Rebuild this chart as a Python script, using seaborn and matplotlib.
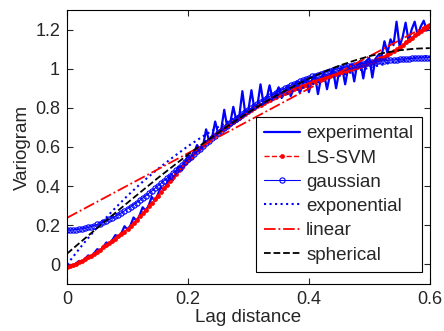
import matplotlib
matplotlib.use('Agg')
import matplotlib.pyplot as plt
import seaborn as sns
from matplotlib.ticker import FormatStrFormatter

# lag grid of the experimental variogram and of the fitted curves
lag = [
    0.000, 0.005, 0.010, 0.015, 0.020, 0.025, 0.030, 0.035, 0.040, 0.045,
    0.050, 0.055, 0.060, 0.065, 0.070, 0.075, 0.080, 0.085, 0.090, 0.095,
    0.100, 0.105, 0.110, 0.115, 0.120, 0.125, 0.130, 0.135, 0.140, 0.145,
    0.150, 0.155, 0.160, 0.165, 0.170, 0.175, 0.180, 0.185, 0.190, 0.195,
    0.200, 0.205, 0.210, 0.215, 0.220, 0.225, 0.230, 0.235, 0.240, 0.245,
    0.250, 0.255, 0.260, 0.265, 0.270, 0.275, 0.280, 0.285, 0.290, 0.295,
    0.300, 0.305, 0.310, 0.315, 0.320, 0.325, 0.330, 0.335, 0.340, 0.345,
    0.350, 0.355, 0.360, 0.365, 0.370, 0.375, 0.380, 0.385, 0.390, 0.395,
    0.400, 0.405, 0.410, 0.415, 0.420, 0.425, 0.430, 0.435, 0.440, 0.445,
    0.450, 0.455, 0.460, 0.465, 0.470, 0.475, 0.480, 0.485, 0.490, 0.495,
    0.500, 0.505, 0.510, 0.515, 0.520, 0.525, 0.530, 0.535, 0.540, 0.545,
    0.550, 0.555, 0.560, 0.565, 0.570, 0.575, 0.580, 0.585, 0.590, 0.595,
    0.600,
]

experimental = [
    -0.010, -0.002, -0.008, 0.006, 0.018, 0.012, 0.030, 0.046, 0.040, 0.058,
    0.078, 0.070, 0.090, 0.112, 0.104, 0.125, 0.150, 0.140, 0.160, 0.195,
    0.178, 0.200, 0.240, 0.222, 0.250, 0.292, 0.275, 0.300, 0.345, 0.325,
    0.355, 0.395, 0.380, 0.412, 0.450, 0.430, 0.470, 0.500, 0.480, 0.525,
    0.555, 0.535, 0.570, 0.610, 0.585, 0.605, 0.690, 0.630, 0.650, 0.730,
    0.668, 0.690, 0.790, 0.700, 0.725, 0.805, 0.735, 0.760, 0.885, 0.765,
    0.790, 0.890, 0.790, 0.815, 0.920, 0.820, 0.845, 0.915, 0.845, 0.870,
    0.905, 0.850, 0.880, 0.910, 0.860, 0.900, 0.935, 0.875, 0.920, 0.950,
    0.880, 0.940, 0.965, 0.870, 0.950, 0.975, 0.895, 0.970, 0.995, 0.900,
    0.985, 1.005, 0.920, 1.005, 1.020, 0.935, 1.025, 1.040, 0.950, 1.040,
    1.055, 0.955, 1.050, 1.070, 1.060, 1.140, 1.080, 1.150, 1.120, 1.240,
    1.115, 1.160, 1.235, 1.140, 1.200, 1.240, 1.170, 1.215, 1.245, 1.195,
    1.210,
]

ls_svm = [
    -0.015, -0.010, -0.004, 0.003, 0.010, 0.018, 0.027, 0.036, 0.045, 0.055,
    0.065, 0.076, 0.087, 0.098, 0.109, 0.120, 0.132, 0.144, 0.156, 0.168,
    0.180, 0.196, 0.212, 0.229, 0.245, 0.262, 0.279, 0.296, 0.314, 0.332,
    0.350, 0.369, 0.388, 0.407, 0.426, 0.445, 0.463, 0.481, 0.499, 0.517,
    0.535, 0.551, 0.567, 0.582, 0.596, 0.610, 0.623, 0.636, 0.649, 0.662,
    0.675, 0.686, 0.697, 0.708, 0.719, 0.730, 0.740, 0.750, 0.760, 0.770,
    0.780, 0.789, 0.798, 0.807, 0.816, 0.825, 0.833, 0.841, 0.849, 0.857,
    0.865, 0.871, 0.877, 0.883, 0.889, 0.895, 0.901, 0.907, 0.913, 0.919,
    0.925, 0.931, 0.937, 0.943, 0.949, 0.955, 0.960, 0.965, 0.970, 0.975,
    0.980, 0.985, 0.990, 0.995, 1.000, 1.005, 1.010, 1.015, 1.020, 1.025,
    1.030, 1.035, 1.041, 1.047, 1.053, 1.060, 1.069, 1.079, 1.089, 1.099,
    1.110, 1.122, 1.134, 1.146, 1.158, 1.170, 1.181, 1.192, 1.203, 1.214,
    1.225,
]

gaussian = [
    0.175, 0.175, 0.176, 0.178, 0.180, 0.182, 0.185, 0.189, 0.193, 0.198,
    0.204, 0.209, 0.216, 0.223, 0.230, 0.238, 0.246, 0.255, 0.264, 0.274,
    0.284, 0.294, 0.305, 0.316, 0.327, 0.339, 0.351, 0.363, 0.375, 0.388,
    0.401, 0.414, 0.427, 0.440, 0.454, 0.467, 0.481, 0.495, 0.508, 0.522,
    0.536, 0.550, 0.563, 0.577, 0.591, 0.604, 0.618, 0.631, 0.644, 0.657,
    0.670, 0.683, 0.695, 0.708, 0.720, 0.732, 0.744, 0.755, 0.767, 0.778,
    0.789, 0.799, 0.810, 0.820, 0.830, 0.840, 0.849, 0.858, 0.867, 0.876,
    0.884, 0.892, 0.900, 0.908, 0.915, 0.922, 0.929, 0.935, 0.942, 0.948,
    0.954, 0.960, 0.965, 0.970, 0.975, 0.980, 0.985, 0.989, 0.993, 0.997,
    1.001, 1.005, 1.008, 1.012, 1.015, 1.018, 1.021, 1.023, 1.026, 1.028,
    1.031, 1.033, 1.035, 1.037, 1.039, 1.040, 1.042, 1.044, 1.045, 1.046,
    1.048, 1.049, 1.050, 1.051, 1.052, 1.053, 1.054, 1.055, 1.055, 1.056,
    1.057,
]

# coarser grid for the plain fitted models
lag_fit = [
    0.000, 0.025, 0.050, 0.075, 0.100, 0.125, 0.150, 0.175, 0.200, 0.225,
    0.250, 0.275, 0.300, 0.325, 0.350, 0.375, 0.400, 0.425, 0.450, 0.475,
    0.500, 0.525, 0.550, 0.575, 0.600,
]
exponential = [
    0.000, 0.098, 0.190, 0.273, 0.351, 0.422, 0.487, 0.547, 0.604, 0.655,
    0.702, 0.745, 0.785, 0.822, 0.855, 0.886, 0.914, 0.940, 0.963, 0.985,
    1.005, 1.023, 1.040, 1.055, 1.068,
]
spherical = [
    0.055, 0.121, 0.186, 0.251, 0.315, 0.378, 0.441, 0.501, 0.561, 0.618,
    0.673, 0.726, 0.777, 0.825, 0.870, 0.911, 0.949, 0.984, 1.015, 1.041,
    1.064, 1.081, 1.094, 1.102, 1.105,
]
lag_lin = [0.0, 0.6]
linear = [0.238, 1.228]

sns.set_style('white')
plt.rcParams['font.family'] = ['Liberation Sans', 'DejaVu Sans']

fig = plt.figure(figsize=(4.44, 3.31), dpi=100)
ax = fig.add_axes([0.151, 0.142, 0.817, 0.828])

sns.lineplot(x=lag, y=experimental, ax=ax, color='blue', lw=1.6,
             label='experimental')
sns.lineplot(x=lag, y=ls_svm, ax=ax, color='red', lw=1.0, linestyle='--',
             marker='o', markersize=3.5, markeredgewidth=0, label='LS-SVM')
sns.lineplot(x=lag, y=gaussian, ax=ax, color='blue', lw=0.8,
             marker='o', markersize=3.8, markerfacecolor='none',
             markeredgecolor='blue', markeredgewidth=0.8, label='gaussian')
sns.lineplot(x=lag_fit, y=exponential, ax=ax, color='blue', lw=1.5,
             linestyle=':', label='exponential')
sns.lineplot(x=lag_lin, y=linear, ax=ax, color='red', lw=1.3,
             linestyle='-.', label='linear')
sns.lineplot(x=lag_fit, y=spherical, ax=ax, color='black', lw=1.3,
             linestyle='--', label='spherical')

ax.set_xlim(0, 0.6)
ax.set_ylim(-0.1, 1.3)
ax.set_xticks([0, 0.2, 0.4, 0.6])
ax.set_yticks([0, 0.2, 0.4, 0.6, 0.8, 1.0, 1.2])
ax.xaxis.set_major_formatter(FormatStrFormatter('%g'))
ax.yaxis.set_major_formatter(FormatStrFormatter('%g'))
ax.tick_params(direction='in', length=4, width=0.8, labelsize=13,
               top=True, right=True, bottom=True, left=True, pad=5)
for sp in ax.spines.values():
    sp.set_color('black')
    sp.set_linewidth(0.8)
ax.set_xlabel('Lag distance', fontsize=13.5, labelpad=1)
ax.set_ylabel('Variogram', fontsize=13.5, labelpad=3)

leg = ax.legend(loc='lower right', bbox_to_anchor=(0.978, 0.044),
                fontsize=13.5, frameon=True, fancybox=False,
                edgecolor='black', framealpha=1, borderpad=0.45,
                labelspacing=0.38, handlelength=1.9, handletextpad=0.35,
                numpoints=1, borderaxespad=0)
leg.get_frame().set_linewidth(0.8)

fig.savefig('out.png', dpi=100)
